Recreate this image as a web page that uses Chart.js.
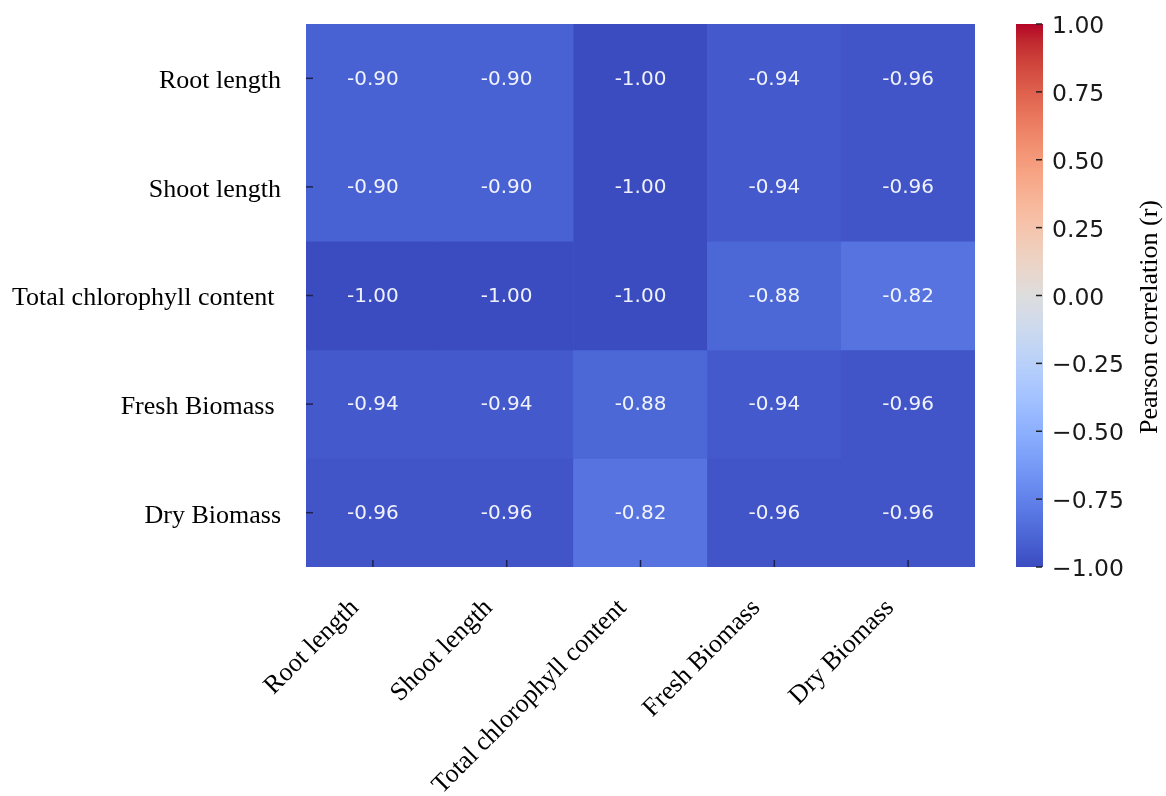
<!DOCTYPE html>
<html>
<head>
<meta charset="utf-8">
<script src="https://cdn.jsdelivr.net/npm/chart.js@4.4.1/dist/chart.umd.min.js"></script>
<style>
  html, body { margin: 0; padding: 0; background: #fff; }
  #wrap { width: 1166px; height: 796px; position: relative; }
</style>
</head>
<body>
<div id="wrap"><canvas id="heat"></canvas></div>
<script>
// traits, in the same order for rows and columns
const rowLabels = ['Root length', 'Shoot length', 'Total chlorophyll content ', 'Fresh Biomass ', 'Dry Biomass'];
const colLabels = ['Root length', 'Shoot length', 'Total chlorophyll content', 'Fresh Biomass', 'Dry Biomass'];

// Pearson r, one array per row
const rootLength   = [-0.90, -0.90, -1.00, -0.94, -0.96];
const shootLength  = [-0.90, -0.90, -1.00, -0.94, -0.96];
const chlorophyll  = [-1.00, -1.00, -1.00, -0.88, -0.82];
const freshBiomass = [-0.94, -0.94, -0.88, -0.94, -0.96];
const dryBiomass   = [-0.96, -0.96, -0.82, -0.96, -0.96];
const corr = [rootLength, shootLength, chlorophyll, freshBiomass, dryBiomass];

const cbarMin = -1, cbarMax = 1, cbarStep = 0.25;

// matplotlib "coolwarm" sampled at 33 points
const coolwarm = [
  [59,76,192],[68,90,204],[77,104,215],[87,117,225],[98,130,234],[108,142,241],
  [119,154,247],[130,165,251],[141,176,254],[152,185,255],[163,194,255],[174,201,253],
  [184,208,249],[194,213,244],[204,217,238],[213,219,230],[221,221,221],[229,216,209],
  [236,211,197],[241,204,185],[245,196,173],[247,187,160],[247,177,148],[247,166,135],
  [244,154,123],[241,141,111],[236,127,99],[229,112,88],[222,96,77],[213,80,66],
  [203,62,56],[192,40,47],[180,4,38]
];

function cmap(v) {
  let t = (v - cbarMin) / (cbarMax - cbarMin);
  t = Math.max(0, Math.min(1, t));
  const f = t * (coolwarm.length - 1);
  const i = Math.min(Math.floor(f), coolwarm.length - 2);
  const k = f - i;
  const a = coolwarm[i], b = coolwarm[i + 1];
  const c = a.map((x, n) => Math.round(x + (b[n] - x) * k));
  return 'rgb(' + c.join(',') + ')';
}

const SERIF = '"Liberation Serif", "Times New Roman", serif';
const SANS = '"DejaVu Sans", sans-serif';

// one floating-bar dataset per row, each bar spans [row, row+1]
const datasets = corr.map((row, i) => ({
  label: rowLabels[i],
  data: row.map(() => [i, i + 1]),
  values: row,
  backgroundColor: row.map(cmap),
  borderWidth: 0,
  barPercentage: 1,
  categoryPercentage: 1,
  grouped: false
}));

// axes keep their fixed sizes, no extra label padding around the plot
function fixSize(w, h) {
  return s => {
    if (w != null) s.width = w;
    if (h != null) s.height = h;
    s.paddingTop = s.paddingBottom = s.paddingLeft = s.paddingRight = 0;
  };
}

const heatExtras = {
  id: 'heatExtras',
  afterDatasetsDraw(chart) {
    const ctx = chart.ctx;
    const area = chart.chartArea;
    const xs = chart.scales.x, ys = chart.scales.y, cb = chart.scales.cbar;

    // cell values
    ctx.save();
    ctx.font = '20px ' + SANS;
    ctx.fillStyle = 'rgba(255,255,255,0.92)';
    ctx.textAlign = 'center';
    ctx.textBaseline = 'middle';
    chart.data.datasets.forEach((ds, i) => {
      chart.getDatasetMeta(i).data.forEach((el, j) => {
        ctx.fillText(ds.values[j].toFixed(2), el.x, (el.y + el.base) / 2 + 1);
      });
    });

    // short inward tick marks
    ctx.strokeStyle = '#1c2150';
    ctx.lineWidth = 1.5;
    ys.ticks.forEach(t => {
      const y = ys.getPixelForValue(t.value);
      ctx.beginPath(); ctx.moveTo(area.left, y); ctx.lineTo(area.left + 7, y); ctx.stroke();
    });
    xs.ticks.forEach((t, i) => {
      const x = xs.getPixelForTick(i);
      ctx.beginPath(); ctx.moveTo(x, area.bottom - 7); ctx.lineTo(x, area.bottom); ctx.stroke();
    });

    // colour bar
    const bx = 1016, bw = 27;
    const top = cb.getPixelForValue(cbarMax), bot = cb.getPixelForValue(cbarMin);
    const g = ctx.createLinearGradient(0, bot, 0, top);
    coolwarm.forEach((c, n) => g.addColorStop(n / (coolwarm.length - 1), 'rgb(' + c.join(',') + ')'));
    ctx.fillStyle = g;
    ctx.fillRect(bx, top, bw, bot - top);
    ctx.strokeStyle = '#222';
    ctx.lineWidth = 1.5;
    cb.ticks.forEach(t => {
      const y = cb.getPixelForValue(t.value);
      ctx.beginPath(); ctx.moveTo(bx + bw - 7, y); ctx.lineTo(bx + bw - 1, y); ctx.stroke();
    });

    // colour bar title, reading bottom to top
    ctx.translate(1150, 317);
    ctx.rotate(-Math.PI / 2);
    ctx.fillStyle = '#000';
    ctx.font = '26px ' + SERIF;
    ctx.fillText('Pearson correlation (r)', 0, 0);
    ctx.restore();
  }
};

new Chart(document.getElementById('heat'), {
  type: 'bar',
  data: { labels: colLabels, datasets },
  plugins: [heatExtras],
  options: {
    responsive: true,
    maintainAspectRatio: false,
    animation: false,
    layout: { padding: { top: 24, left: 0, right: 0, bottom: 0 } },
    plugins: { legend: { display: false }, tooltip: { enabled: false } },
    scales: {
      x: {
        type: 'category',
        grid: { display: false, drawTicks: false },
        border: { display: false },
        afterFit: fixSize(null, 229),
        ticks: {
          color: '#000',
          font: { family: SERIF, size: 26 },
          minRotation: 45,
          maxRotation: 45,
          padding: 26,
          labelOffset: -18
        }
      },
      y: {
        type: 'linear',
        min: 0,
        max: rowLabels.length,
        reverse: true,
        grid: { display: false, drawTicks: false },
        border: { display: false },
        afterFit: fixSize(306, null),
        afterBuildTicks: s => { s.ticks = rowLabels.map((_, i) => ({ value: i + 0.5 })); },
        ticks: {
          color: '#000',
          font: { family: SERIF, size: 26 },
          padding: 25,
          labelOffset: 3,
          callback: (v, i) => rowLabels[i]
        }
      },
      cbar: {
        type: 'linear',
        axis: 'y',
        position: 'right',
        min: cbarMin,
        max: cbarMax,
        grid: { display: false, drawTicks: false },
        border: { display: false },
        afterFit: fixSize(191, null),
        ticks: {
          stepSize: cbarStep,
          color: '#1a1a1a',
          font: { family: SANS, size: 23.5 },
          padding: 77,
          labelOffset: 3,
          callback: v => v.toFixed(2).replace('-', '\u2212')
        }
      }
    }
  }
});
</script>
</body>
</html>
